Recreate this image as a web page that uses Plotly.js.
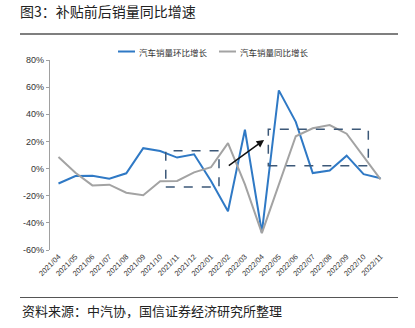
<!DOCTYPE html>
<html><head><meta charset="utf-8">
<script src="https://cdn.plot.ly/plotly-3.0.1.min.js"></script>
<style>html,body{margin:0;padding:0;background:#fff}#chart{width:415px;height:328px}</style>
</head><body><div id="chart"></div>
<script>
var months = ["2021/04","2021/05","2021/06","2021/07","2021/08","2021/09","2021/10","2021/11","2021/12","2022/01","2022/02","2022/03","2022/04","2022/05","2022/06","2022/07","2022/08","2022/09","2022/10","2022/11"];
var momGrowth = [-11.0,-5.5,-5.3,-7.5,-3.5,15.0,12.9,8.1,10.5,-9.2,-31.4,28.6,-47.1,57.6,34.4,-3.3,-1.5,9.5,-4.1,-7.2];
var yoyGrowth = [8.6,-3.1,-12.4,-11.9,-17.8,-19.6,-9.4,-9.1,-2.8,1.0,18.7,-11.7,-47.6,-12.6,23.8,29.7,32.1,25.7,9.0,-7.9];
var seriesNames = ["汽车销量环比增长","汽车销量同比增长"];
var yTicks = [-60,-40,-20,0,20,40,60,80];
var yTickLabels = ["-60%","-40%","-20%","0%","20%","40%","60%","80%"];

var evenMonths = months.filter(function(m, i){ return i % 2 === 0; });
var oddMonths = months.filter(function(m, i){ return i % 2 === 1; });

var cjk = '"Noto Sans CJK SC", "Liberation Sans", Arial, sans-serif';
var lat = '"Liberation Sans", Arial, sans-serif';
var blue = '#2f79c5', gray = '#a3a3a3', boxc = '#3c5878';
var tickFont = {family: lat, size: 7.5, color: '#333'};

var traces = [
  {x: months, y: yoyGrowth, name: seriesNames[1], type: 'scatter', mode: 'lines',
   xaxis: 'x3', line: {color: gray, width: 2}, showlegend: false},
  {x: months, y: momGrowth, name: seriesNames[0], type: 'scatter', mode: 'lines',
   line: {color: blue, width: 2}, showlegend: false}
];

function labelAxis(vals, extra) {
  var a = {type: 'category', categoryorder: 'array', categoryarray: months,
    range: [-0.5, 19.5], showline: false, showgrid: false, zeroline: false,
    tickmode: 'array', tickvals: vals, ticktext: vals,
    ticks: '', tickangle: -45, tickfont: tickFont};
  for (var k in extra) a[k] = extra[k];
  return a;
}

var layout = {
  width: 415, height: 328,
  margin: {l: 50, r: 26, t: 60, b: 78},
  paper_bgcolor: '#fff', plot_bgcolor: '#fff',
  title: {text: '图3：补贴前后销量同比增速', x: 20/415, xref: 'container', xanchor: 'left',
          y: 1 - 12.5/328, yref: 'container', yanchor: 'middle',
          font: {family: cjk, size: 14, color: '#222'}},
  xaxis: labelAxis(evenMonths, {}),
  xaxis3: labelAxis(oddMonths, {overlaying: 'x', anchor: 'y', side: 'bottom'}),
  xaxis2: {type: 'linear', overlaying: 'x', anchor: 'free', position: 60/140, range: [-0.5, 19.5],
          showline: true, linecolor: '#8c8c8c', linewidth: 1.2, showgrid: false, zeroline: false,
          ticks: 'outside', tickmode: 'linear', tick0: -0.5, dtick: 1, ticklen: 3, tickcolor: '#8c8c8c',
          showticklabels: false},
  yaxis: {range: [-60, 80], tickmode: 'array', tickvals: yTicks, ticktext: yTickLabels,
          showgrid: false, zeroline: false,
          showline: true, linecolor: '#a0a0a0', linewidth: 1.2, ticks: 'outside', ticklen: 3,
          tickcolor: '#a0a0a0', tickfont: {family: lat, size: 9, color: '#333'}},
  shapes: [
    {type: 'line', xref: 'paper', yref: 'paper', x0: -30/339, x1: 348/339, y0: 1.1368, y1: 1.1368,
     line: {color: '#555', width: 1.5}},
    {type: 'line', xref: 'paper', yref: 'paper', x0: -30/339, x1: 348/339, y0: -0.25, y1: -0.25,
     line: {color: '#555', width: 1.2}},
    {type: 'line', xref: 'paper', yref: 'paper', x0: 68/339, x1: 85/339, y0: 1.0447, y1: 1.0447,
     line: {color: blue, width: 2}},
    {type: 'line', xref: 'paper', yref: 'paper', x0: 169/339, x1: 186/339, y0: 1.0447, y1: 1.0447,
     line: {color: gray, width: 2}},
    {type: 'rect', xref: 'x', yref: 'y', x0: 6.33, x1: 9.47, y0: -13.6, y1: 13.2,
     line: {color: boxc, width: 1.5, dash: 'dash'}},
    {type: 'rect', xref: 'x', yref: 'y', x0: 12.38, x1: 18.28, y0: 2.1, y1: 29,
     line: {color: boxc, width: 1.5, dash: 'dash'}}
  ],
  annotations: [
    {xref: 'paper', yref: 'paper', x: 87/339, y: 1.0447, xanchor: 'left', yanchor: 'middle',
     text: seriesNames[0], showarrow: false, font: {family: cjk, size: 8.5, color: '#333'}},
    {xref: 'paper', yref: 'paper', x: 188/339, y: 1.0447, xanchor: 'left', yanchor: 'middle',
     text: seriesNames[1], showarrow: false, font: {family: cjk, size: 8.5, color: '#333'}},
    {xref: 'paper', yref: 'paper', x: -30/339, y: -0.321, xanchor: 'left', yanchor: 'middle',
     text: '资料来源：中汽协，国信证券经济研究所整理', showarrow: false,
     font: {family: cjk, size: 13, color: '#222'}},
    {xref: 'x', yref: 'y', x: 12.13, y: 21.1, axref: 'x', ayref: 'y', ax: 9.96, ay: 1.4,
     showarrow: true, arrowhead: 2, arrowsize: 1, arrowwidth: 1.5, arrowcolor: '#111', text: ''}
  ]
};
Plotly.newPlot('chart', traces, layout, {displayModeBar: false, staticPlot: true});
</script></body></html>
